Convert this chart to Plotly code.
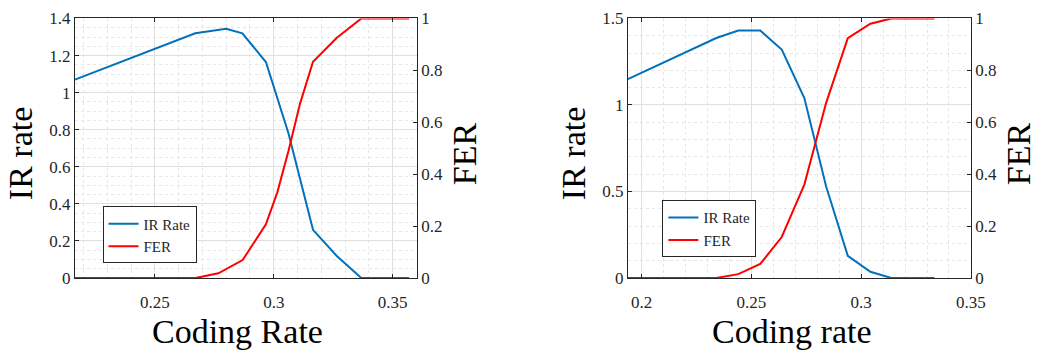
import plotly.graph_objects as go

W, H = 1049, 360
FONT = "Liberation Serif, Times New Roman, serif"
INK = "#262626"
MAJ = "#e0e0e0"
MIN = "#e6e6e6"
BLUE = "#0072BD"
RED = "#FF0000"

# ---------------- data: left panel ----------------
left_ir_x = [0.2164, 0.2670, 0.2800, 0.2868, 0.2967, 0.3062, 0.3165, 0.3264, 0.3368, 0.3569]
left_ir_y = [1.07, 1.32, 1.345, 1.32, 1.165, 0.78, 0.26, 0.12, 0.0, 0.0]
left_fer_x = [0.2164, 0.2671, 0.2767, 0.2869, 0.2967, 0.3015, 0.3062, 0.3110, 0.3165, 0.3264, 0.3368, 0.3569]
left_fer_y = [0.0, 0.0, 0.018, 0.069, 0.207, 0.33, 0.49, 0.67, 0.833, 0.925, 1.0, 1.0]

# ---------------- data: right panel ----------------
right_x = [0.1937, 0.2340, 0.2440, 0.2540, 0.2638, 0.2741, 0.2840, 0.2939, 0.3042, 0.3137, 0.3334]
right_ir_y = [1.15, 1.387, 1.43, 1.43, 1.32, 1.04, 0.53, 0.128, 0.036, 0.0, 0.0]
right_fer_y = [0.0, 0.0, 0.015, 0.054, 0.158, 0.36, 0.674, 0.924, 0.98, 1.0, 1.0]

# ---------------- tick labels ----------------
left_xticks = [0.25, 0.3, 0.35]
left_xtext = ["0.25", "0.3", "0.35"]
left_yticks = [0, 0.2, 0.4, 0.6, 0.8, 1.0, 1.2, 1.4]
left_ytext = ["0", "0.2", "0.4", "0.6", "0.8", "1", "1.2", "1.4"]
fer_ticks = [0, 0.2, 0.4, 0.6, 0.8, 1.0]
fer_text = ["0", "0.2", "0.4", "0.6", "0.8", "1"]
right_xticks = [0.2, 0.25, 0.3, 0.35]
right_xtext = ["0.2", "0.25", "0.3", "0.35"]
right_yticks = [0, 0.5, 1.0, 1.5]
right_ytext = ["0", "0.5", "1", "1.5"]

fig = go.Figure()
fig.add_trace(go.Scatter(x=left_ir_x, y=left_ir_y, name="IR Rate", mode="lines",
                         line=dict(color=BLUE, width=2), xaxis="x", yaxis="y", legend="legend"))
fig.add_trace(go.Scatter(x=left_fer_x, y=left_fer_y, name="FER", mode="lines",
                         line=dict(color=RED, width=2), xaxis="x", yaxis="y2", legend="legend"))
fig.add_trace(go.Scatter(x=right_x, y=right_ir_y, name="IR Rate", mode="lines",
                         line=dict(color=BLUE, width=2), xaxis="x2", yaxis="y3", legend="legend2"))
fig.add_trace(go.Scatter(x=right_x, y=right_fer_y, name="FER", mode="lines",
                         line=dict(color=RED, width=2), xaxis="x2", yaxis="y4", legend="legend2"))

common = dict(showline=True, linecolor=INK, linewidth=1, ticks="inside", ticklen=4,
              tickcolor=INK, tickfont=dict(family=FONT, size=17, color=INK), zeroline=False,
              tickmode="array")
ydom = [1 - 284 / H, 1 - 10 / H]


def minor(d):
    return dict(tickmode="linear", tick0=0, dtick=d, showgrid=True, gridcolor=MIN,
                griddash="dot", gridwidth=1, ticks="")


fig.update_layout(
    width=W, height=H, margin=dict(l=0, r=0, t=0, b=0),
    font=dict(family=FONT, color=INK),
    paper_bgcolor="white", plot_bgcolor="white", showlegend=True,
    xaxis=dict(domain=[76 / W, 423 / W], range=[0.2164, 0.3602], anchor="y",
               tickvals=left_xticks, ticktext=left_xtext, showgrid=True, gridcolor=MAJ,
               mirror="ticks", minor=minor(0.01), ticklabelstandoff=9, **common),
    yaxis=dict(domain=ydom, range=[0, 1.4], anchor="x", tickvals=left_yticks,
               ticktext=left_ytext, showgrid=True, gridcolor=MAJ, minor=minor(0.05), **common),
    yaxis2=dict(range=[0, 1], overlaying="y", side="right", anchor="x", tickvals=fer_ticks,
                ticktext=fer_text, showgrid=False, **common),
    xaxis2=dict(domain=[637 / W, 985 / W], range=[0.1937, 0.35], anchor="y3",
                tickvals=right_xticks, ticktext=right_xtext, showgrid=True, gridcolor=MAJ,
                mirror="ticks", minor=minor(0.01), ticklabelstandoff=9, **common),
    yaxis3=dict(domain=ydom, range=[0, 1.5], anchor="x2", tickvals=right_yticks,
                ticktext=right_ytext, showgrid=True, gridcolor=MAJ, minor=minor(0.1), **common),
    yaxis4=dict(range=[0, 1], overlaying="y3", side="right", anchor="x2", tickvals=fer_ticks,
                ticktext=fer_text, showgrid=False, **common),
    legend=dict(x=104 / W, y=1 - 238.5 / H, xanchor="left", yanchor="middle", bordercolor=INK,
                borderwidth=1, bgcolor="white", font=dict(family=FONT, size=15, color=INK),
                itemwidth=30, tracegroupgap=0),
    legend2=dict(x=672 / W, y=1 - 232 / H, xanchor="left", yanchor="middle", bordercolor=INK,
                 borderwidth=1, bgcolor="white", font=dict(family=FONT, size=15, color=INK),
                 itemwidth=30, tracegroupgap=0),
)

tfont = dict(family=FONT, size=34, color="black")
annos = [
    dict(text="IR rate", x=21 / W, y=1 - 152.5 / H, textangle=-90),
    dict(text="FER", x=472 / W, y=1 - 153 / H, textangle=-90),
    dict(text="Coding Rate", x=241 / W, y=1 - 340 / H, textangle=0),
    dict(text="IR rate", x=582 / W, y=1 - 152.5 / H, textangle=-90),
    dict(text="FER", x=1034 / W, y=1 - 153 / H, textangle=-90),
    dict(text="Coding rate", x=803 / W, y=1 - 340 / H, textangle=0),
]
for a in annos:
    fig.add_annotation(xref="paper", yref="paper", xanchor="center", yanchor="middle",
                       showarrow=False, font=tfont, **a)

fig.write_html("out.html")
